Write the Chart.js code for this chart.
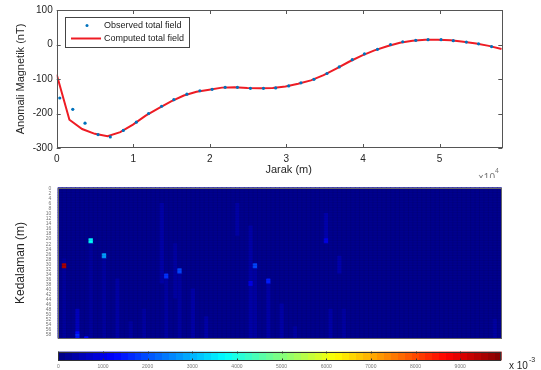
<!DOCTYPE html>
<html>
<head>
<meta charset="utf-8">
<script src="https://cdn.jsdelivr.net/npm/chart.js@4.4.0/dist/chart.umd.min.js"></script>
<style>
html, body { margin: 0; padding: 0; background: #fff; }
#wrap { position: relative; width: 541px; height: 370px; overflow: hidden; }
canvas { position: absolute; left: 0; }
</style>
</head>
<body>
<div id="wrap">
    <canvas id="chartMagnetik" style="top:0px" width="541" height="178"></canvas>
    <canvas id="chartKedalaman" style="top:178px" width="541" height="170"></canvas>
    <canvas id="chartSkala" style="top:345px" width="541" height="25"></canvas>
</div>
<script>
// --- data: profil anomali magnetik (jarak dalam x10^4 m) ---
const jarakObs = [0.04, 0.21, 0.37, 0.54, 0.70, 0.87, 1.04, 1.20, 1.37, 1.53, 1.70, 1.87, 2.03, 2.20, 2.36, 2.53, 2.70, 2.86,
    3.03, 3.19, 3.36, 3.53, 3.69, 3.86, 4.02, 4.19, 4.36, 4.52, 4.69, 4.85, 5.02, 5.18, 5.35, 5.51, 5.68];
const anomaliObs = [-155, -188, -228, -261, -268, -249, -225, -200, -179, -160, -144, -134, -130, -124, -124, -127, -127, -126,
    -120, -111, -101, -84, -65, -44, -27, -14, 0, 8, 12, 14, 14, 11, 7, 2, -6];
const jarakCalc = [0.000, 0.166, 0.332, 0.498, 0.664, 0.830, 0.996, 1.162, 1.328, 1.494, 1.660, 1.826, 1.992, 2.158, 2.324, 2.490,
    2.656, 2.822, 2.988, 3.154, 3.320, 3.486, 3.652, 3.818, 3.984, 4.150, 4.316, 4.482, 4.648, 4.814, 4.980, 5.146, 5.312, 5.478, 5.644, 5.810];
const anomaliCalc = [-87, -218, -245, -259, -266, -254, -232, -206, -185, -165, -148, -137, -131, -125, -124, -126,
    -127, -126, -122, -114, -104, -89, -70, -50, -32, -17, -5, 5, 11, 14, 14, 12, 8, 3, -4, -13];
const xTicks = [0, 1, 2, 3, 4, 5];
const yTicks = [-300, -200, -100, 0, 100];

// --- data: penampang kedalaman (60 baris x 100 kolom) ---
const nBaris = 60;
const nKolom = 100;
const nilaiLatar = 150;
// [kolom, baris, nilai]
const selMenonjol = [
    [1, 30, 9500], [1, 31, 9500],
    [7, 20, 3600], [7, 21, 3700],
    [10, 26, 2800], [10, 27, 2700],
    [27, 32, 1900], [27, 33, 1900],
    [24, 34, 1700], [24, 35, 1700],
    [44, 30, 1900], [44, 31, 1900],
    [47, 36, 1500], [47, 37, 1500],
    [43, 37, 1000], [43, 38, 1000],
    [4, 57, 1300], [4, 58, 1600], [4, 59, 1400],
    [6, 59, 1300],
    [60, 20, 1000], [60, 21, 1000]
];
// [kolom, baris awal, baris akhir, nilai]
const jalurLemah = [
    [1, 28, 59, 300], [4, 48, 56, 600], [7, 22, 59, 300], [10, 28, 59, 320],
    [13, 36, 59, 380], [16, 53, 59, 350], [19, 48, 59, 350], [23, 6, 37, 400],
    [24, 36, 59, 350], [26, 22, 43, 350], [27, 34, 59, 350], [30, 40, 59, 400],
    [33, 51, 59, 400], [40, 6, 18, 380], [43, 15, 59, 400], [44, 32, 59, 350],
    [47, 38, 59, 400], [50, 46, 59, 400], [53, 55, 59, 350], [60, 10, 19, 450],
    [61, 48, 59, 400], [63, 27, 33, 450], [64, 48, 59, 350], [98, 52, 59, 350]
];
const depthTicks = [0, 2, 4, 6, 8, 10, 12, 14, 16, 18, 20, 22, 24, 26, 28, 30, 32, 34, 36, 38, 40, 42, 44, 46, 48, 50, 52, 54, 56, 58];
const skalaMax = 9930;
const skalaTicks = [0, 1000, 2000, 3000, 4000, 5000, 6000, 7000, 8000, 9000];

const FONT = '"Liberation Sans", Arial, sans-serif';

function jet(t) {
    t = Math.max(0, Math.min(1, t));
    const c = v => Math.round(255 * Math.max(0, Math.min(1, v)));
    return 'rgb(' + c(1.5 - Math.abs(4 * t - 3)) + ',' + c(1.5 - Math.abs(4 * t - 2)) + ',' + c(1.5 - Math.abs(4 * t - 1)) + ')';
}

// ============ grafik atas ============
const bingkaiAtas = {
    id: 'bingkaiAtas',
    afterDraw(chart) {
        const ctx = chart.ctx;
        const a = chart.chartArea;
        const sx = chart.scales.x, sy = chart.scales.y;
        ctx.save();
        ctx.strokeStyle = '#555';
        ctx.lineWidth = 1;
        ctx.strokeRect(Math.round(a.left) + 0.5, Math.round(a.top) + 0.5, Math.round(a.width) - 1, Math.round(a.height) - 1);
        ctx.beginPath();
        sx.ticks.forEach(t => {
            const px = Math.round(sx.getPixelForValue(t.value)) + 0.5;
            ctx.moveTo(px, a.bottom); ctx.lineTo(px, a.bottom - 4);
            ctx.moveTo(px, a.top); ctx.lineTo(px, a.top + 4);
        });
        sy.ticks.forEach(t => {
            const py = Math.round(sy.getPixelForValue(t.value)) + 0.5;
            ctx.moveTo(a.left, py); ctx.lineTo(a.left + 4, py);
            ctx.moveTo(a.right, py); ctx.lineTo(a.right - 4, py);
        });
        ctx.stroke();

        // legenda
        ctx.fillStyle = '#fff';
        ctx.fillRect(65, 17, 124, 30);
        ctx.strokeStyle = '#444';
        ctx.strokeRect(65.5, 17.5, 124, 30);
        const ds = chart.data.datasets;
        ctx.fillStyle = ds[0].pointBackgroundColor;
        ctx.beginPath();
        ctx.arc(87, 25.5, 1.5, 0, Math.PI * 2);
        ctx.fill();
        ctx.strokeStyle = ds[1].borderColor;
        ctx.lineWidth = 2;
        ctx.beginPath();
        ctx.moveTo(71, 38.5); ctx.lineTo(101, 38.5);
        ctx.stroke();
        ctx.fillStyle = '#1a1a1a';
        ctx.font = '9px ' + FONT;
        ctx.textBaseline = 'middle';
        ctx.fillText(ds[0].label, 104, 26);
        ctx.fillText(ds[1].label, 104, 39);

        // pengali sumbu x
        ctx.fillStyle = '#777';
        ctx.font = '10px ' + FONT;
        ctx.textBaseline = 'alphabetic';
        ctx.fillText('\u00d710', 478, 181);
        ctx.font = '7px ' + FONT;
        ctx.fillText('4', 495, 173);
        ctx.restore();
    }
};

new Chart(document.getElementById('chartMagnetik'), {
    type: 'line',
    data: {
        datasets: [{
            label: 'Observed total field',
            data: jarakObs.map((x, i) => ({ x: x, y: anomaliObs[i] })),
            showLine: false,
            pointRadius: 1.6,
            pointBorderWidth: 0,
            pointBackgroundColor: '#0072BD',
            borderColor: '#0072BD'
        }, {
            label: 'Computed total field',
            data: jarakCalc.map((x, i) => ({ x: x, y: anomaliCalc[i] })),
            borderColor: '#EE1C24',
            borderWidth: 2,
            pointRadius: 0,
            tension: 0,
            fill: false
        }]
    },
    options: {
        responsive: false,
        devicePixelRatio: 1,
        animation: false,
        layout: { padding: { left: 0, right: 38.7, top: 10, bottom: 0 } },
        plugins: { legend: { display: false }, tooltip: { enabled: false } },
        scales: {
            x: {
                type: 'linear',
                min: 0,
                max: 5.82,
                afterBuildTicks: s => { s.ticks = xTicks.map(v => ({ value: v })); },
                afterFit: s => { s.height = 30; },
                grid: { display: false, drawTicks: false },
                border: { display: false },
                ticks: { padding: 5, color: '#262626', font: { family: FONT, size: 10 } },
                title: {
                    display: true,
                    text: '\u00a0\u00a0\u00a0\u00a0\u00a0\u00a0Jarak (m)',
                    color: '#262626',
                    font: { family: FONT, size: 11 },
                    padding: { top: 0, bottom: 1.4 }
                }
            },
            y: {
                min: -300,
                max: 100,
                afterBuildTicks: s => { s.ticks = yTicks.map(v => ({ value: v })); },
                afterFit: s => { s.width = 56.7; },
                grid: { display: false, drawTicks: false },
                border: { display: false },
                ticks: { padding: 4, color: '#262626', font: { family: FONT, size: 10 } },
                title: {
                    display: true,
                    text: 'Anomali Magnetik (nT)',
                    color: '#262626',
                    font: { family: FONT, size: 11 },
                    padding: { top: 14.4, bottom: 0 }
                }
            }
        }
    },
    plugins: [bingkaiAtas]
});

// ============ penampang kedalaman ============
const grid = [];
for (let r = 0; r < nBaris; r++) {
    grid.push(new Array(nKolom).fill(nilaiLatar));
}
jalurLemah.forEach(([k, r0, r1, v]) => {
    for (let r = r0; r <= r1; r++) grid[r][k] = Math.max(grid[r][k], v);
});
selMenonjol.forEach(([k, r, v]) => { grid[r][k] = v; });

const kolomLabels = [];
for (let k = 0; k < nKolom; k++) kolomLabels.push(String(k + 1));

const barisDatasets = grid.map((baris, r) => ({
    label: 'z' + r,
    data: baris.map(() => 1),
    backgroundColor: baris.map(v => jet(v / skalaMax)),
    borderWidth: 0,
    barPercentage: 1,
    categoryPercentage: 1
}));

const bingkaiPeta = {
    id: 'bingkaiPeta',
    beforeDatasetsDraw(chart) {
        const ctx = chart.ctx;
        const a = chart.chartArea;
        ctx.save();
        ctx.fillStyle = jet(nilaiLatar / skalaMax);
        ctx.fillRect(a.left, a.top, a.width, a.height);
        ctx.restore();
    },
    afterDatasetsDraw(chart) {
        // garis sel tipis seperti pcolor
        const ctx = chart.ctx;
        const a = chart.chartArea;
        const sx = chart.scales.x, sy = chart.scales.y;
        ctx.save();
        ctx.strokeStyle = 'rgba(0,0,30,0.16)';
        ctx.lineWidth = 0.6;
        ctx.beginPath();
        for (let k = 1; k < nKolom; k++) {
            const px = (sx.getPixelForValue(k - 1) + sx.getPixelForValue(k)) / 2;
            ctx.moveTo(px, a.top); ctx.lineTo(px, a.bottom);
        }
        for (let r = 1; r < nBaris; r++) {
            const py = sy.getPixelForValue(r);
            ctx.moveTo(a.left, py); ctx.lineTo(a.right, py);
        }
        ctx.stroke();
        ctx.restore();
    },
    afterDraw(chart) {
        const ctx = chart.ctx;
        const a = chart.chartArea;
        ctx.save();
        ctx.strokeStyle = '#666';
        ctx.lineWidth = 1;
        ctx.strokeRect(Math.round(a.left) + 0.5, Math.round(a.top) + 0.5, Math.round(a.width) - 1, Math.round(a.height) - 1);
        ctx.restore();
    }
};

new Chart(document.getElementById('chartKedalaman'), {
    type: 'bar',
    data: { labels: kolomLabels, datasets: barisDatasets },
    options: {
        responsive: false,
        devicePixelRatio: 1,
        animation: false,
        layout: { padding: { left: 0, right: 39.3, top: 0, bottom: 0 } },
        plugins: { legend: { display: false }, tooltip: { enabled: false } },
        scales: {
            x: { stacked: true, display: false },
            y: {
                stacked: true,
                min: 0,
                max: nBaris,
                reverse: true,
                afterBuildTicks: s => { s.ticks = depthTicks.map(d => ({ value: d + 0.5 })); },
                afterFit: s => { s.width = 57.7; },
                grid: { display: false, drawTicks: false },
                border: { display: false },
                ticks: {
                    autoSkip: false,
                    padding: 6.5,
                    color: '#777',
                    font: { family: FONT, size: 5 },
                    callback: v => String(Math.round(v - 0.5))
                },
                title: {
                    display: true,
                    text: 'Kedalaman (m)',
                    color: '#262626',
                    font: { family: FONT, size: 12 },
                    padding: { top: 13.8, bottom: 0 }
                }
            }
        }
    },
    plugins: [bingkaiPeta]
});

// ============ skala warna ============
const hiasanSkala = {
    id: 'hiasanSkala',
    afterDraw(chart) {
        const ctx = chart.ctx;
        const a = chart.chartArea;
        const sx = chart.scales.x;
        ctx.save();
        ctx.strokeStyle = '#333';
        ctx.lineWidth = 1;
        ctx.strokeRect(Math.round(a.left) + 0.5, Math.round(a.top) + 0.5, Math.round(a.width) - 1, Math.round(a.height) - 1);
        ctx.beginPath();
        sx.ticks.forEach(t => {
            const px = Math.round(sx.getPixelForValue(t.value)) + 0.5;
            ctx.moveTo(px, a.bottom); ctx.lineTo(px, a.bottom - 2);
            ctx.moveTo(px, a.top); ctx.lineTo(px, a.top + 2);
        });
        ctx.stroke();
        ctx.fillStyle = '#262626';
        ctx.font = '10px ' + FONT;
        ctx.fillText('x 10', 509, 23.5);
        ctx.font = '7px ' + FONT;
        ctx.fillText('-3', 529, 17);
        ctx.restore();
    }
};

new Chart(document.getElementById('chartSkala'), {
    type: 'bar',
    data: {
        labels: [''],
        datasets: [{
            data: [[0, skalaMax]],
            backgroundColor: function(c) {
                const a = c.chart.chartArea;
                if (!a) return '#00008f';
                const g = c.chart.ctx.createLinearGradient(a.left, 0, a.right, 0);
                for (let i = 0; i < 64; i++) {
                    const col = jet((i + 0.5) / 64);
                    g.addColorStop(i / 64, col);
                    g.addColorStop((i + 1) / 64, col);
                }
                return g;
            },
            barPercentage: 1,
            categoryPercentage: 1,
            borderWidth: 0
        }]
    },
    options: {
        indexAxis: 'y',
        responsive: false,
        devicePixelRatio: 1,
        animation: false,
        layout: { padding: { left: 58.3, right: 39.3, top: 6.5, bottom: 0 } },
        plugins: { legend: { display: false }, tooltip: { enabled: false } },
        scales: {
            y: { display: false },
            x: {
                type: 'linear',
                min: 0,
                max: skalaMax,
                afterBuildTicks: s => { s.ticks = skalaTicks.map(v => ({ value: v })); },
                afterFit: s => { s.height = 9.5; },
                grid: { display: false, drawTicks: false },
                border: { display: false },
                ticks: {
                    padding: 3,
                    color: '#777',
                    font: { family: FONT, size: 5 },
                    maxRotation: 0,
                    autoSkip: false,
                    callback: v => String(v)
                }
            }
        }
    },
    plugins: [hiasanSkala]
});
</script>
</body>
</html>
